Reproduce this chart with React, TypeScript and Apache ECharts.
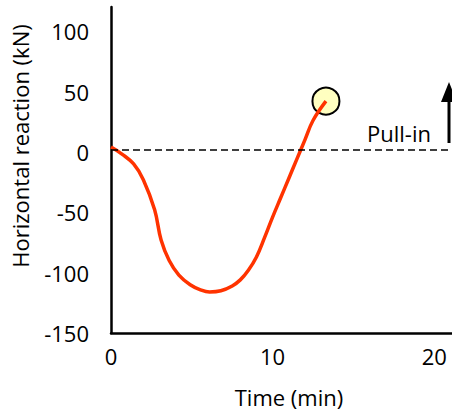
import React, { useEffect, useRef } from "react";
import * as echarts from "echarts";

const time = [0, 0.7, 1.4, 2.0, 2.7, 3.1, 3.6, 4.2, 4.9, 5.5, 6.1, 6.8, 7.5, 8.0, 8.5, 9.0, 9.5, 10.0, 10.5, 11.0, 11.5, 12.0, 12.5, 13.3];
const force = [4, -2, -10, -23, -48, -73, -90, -102, -110, -114, -116, -115, -111, -106, -98, -87, -71, -54, -38, -22, -6, 10, 26, 42];
const pullInLevel = 2;
const pullInLabel = "Pull-in";
const xTitle = "Time (min)";
const yTitle = "Horizontal reaction (kN)";

const FONT = "'Open Sans', sans-serif";

export default function App() {
  const ref = useRef<HTMLDivElement>(null);
  useEffect(() => {
    if (!ref.current) return;
    const chart = echarts.init(ref.current, undefined, { renderer: "svg" });
    const pts = time.map((t, i) => [t, force[i]]);
    const last = pts[pts.length - 1];
    chart.setOption({
      animation: false,
      backgroundColor: "#fff",
      grid: { left: 111, right: 0, top: 7, bottom: 81 },
      xAxis: {
        type: "value",
        min: 0,
        max: 21.1,
        interval: 10,
        axisLine: { onZero: false, lineStyle: { color: "#000", width: 2.5 } },
        axisTick: { show: false },
        splitLine: { show: false },
        axisLabel: { fontFamily: FONT, fontSize: 22, color: "#000", margin: 12, showMaxLabel: false },
      },
      yAxis: {
        type: "value",
        min: -150,
        max: 120,
        interval: 50,
        axisLine: { show: true, onZero: false, lineStyle: { color: "#000", width: 2.5 } },
        axisTick: { show: false },
        splitLine: { show: false },
        axisLabel: { fontFamily: FONT, fontSize: 22, color: "#000", margin: 22, showMaxLabel: false },
      },
      series: [
        {
          type: "scatter",
          data: [last],
          symbolSize: 27,
          z: 2,
          itemStyle: { color: "#ffffc0", borderColor: "#000", borderWidth: 2, opacity: 1 },
        },
        {
          type: "line",
          data: pts,
          smooth: 0.4,
          showSymbol: false,
          z: 3,
          lineStyle: { color: "#ff3300", width: 3.5 },
          markLine: {
            silent: true,
            symbol: ["none", "none"],
            label: { show: false },
            lineStyle: { color: "#000", type: [7, 4], width: 1.5 },
            data: [{ yAxis: pullInLevel }],
          },
        },
      ],
      graphic: [
        {
          type: "text",
          x: 20,
          y: 146,
          rotation: Math.PI / 2,
          style: { text: yTitle, font: `22px ${FONT}`, fill: "#000", textAlign: "center", textVerticalAlign: "middle" },
        },
        {
          type: "text",
          x: 289,
          y: 397,
          style: { text: xTitle, font: `22px ${FONT}`, fill: "#000", textAlign: "center", textVerticalAlign: "middle" },
        },
        {
          type: "text",
          x: 367,
          y: 133,
          style: { text: pullInLabel, font: `22px ${FONT}`, fill: "#000", textAlign: "left", textVerticalAlign: "middle" },
        },
        {
          type: "polygon",
          shape: { points: [[449, 82], [441, 102], [457, 102]] },
          style: { fill: "#000" },
        },
        {
          type: "rect",
          shape: { x: 447.5, y: 100, width: 3, height: 43 },
          style: { fill: "#000" },
        },
      ],
    });
    return () => chart.dispose();
  }, []);
  return (
    <div style={{ position: "fixed", left: 0, top: 0, width: 452, height: 414, overflow: "hidden", background: "#fff" }}>
      <div ref={ref} style={{ width: 452, height: 414 }} />
    </div>
  );
}
